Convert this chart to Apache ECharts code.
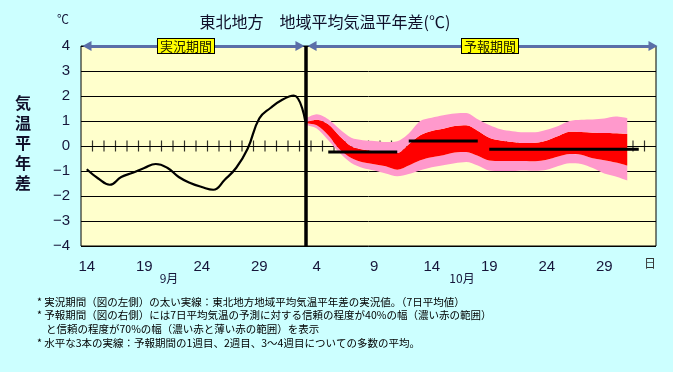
<!DOCTYPE html>
<html><head><meta charset="utf-8">
<script src="https://cdn.jsdelivr.net/npm/echarts@6/dist/echarts.min.js"></script>
<style>html,body{margin:0;padding:0;background:#ccffff}#c{width:673px;height:372px}</style>
</head><body><div id="c"></div>
<script>
// categories: days from Sep 14 to Nov 2
const days = ['14','15','16','17','18','19','20','21','22','23','24','25','26','27','28','29','30',
  '1','2','3','4','5','6','7','8','9','10','11','12','13','14','15','16','17','18','19','20',
  '21','22','23','24','25','26','27','28','29','30','31','1','2'];
// observed 7-day mean anomaly (Sep 14 - Oct 3)
const observed = [-0.93,-1.3,-1.55,-1.24,-1.07,-0.88,-0.72,-0.87,-1.24,-1.48,-1.64,-1.75,-1.35,-0.87,-0.1,1.1,1.53,1.85,2.02,1.0];
// forecast bands (Oct 3 - Oct 31)
const forecastStart = 19;
const upper70 = [1.1,1.27,1.07,0.67,0.33,0.23,0.20,0.16,0.19,0.5,1.0,1.13,1.23,1.30,1.32,1.07,0.84,0.67,0.59,0.55,0.55,0.65,0.80,1.0,1.05,1.06,1.10,1.18,1.12];
const upper40 = [0.95,1.05,0.87,0.39,-0.01,-0.14,-0.20,-0.27,-0.28,0.07,0.43,0.60,0.69,0.80,0.83,0.61,0.33,0.22,0.16,0.12,0.13,0.22,0.40,0.57,0.56,0.53,0.52,0.51,0.48];
const lower40 = [0.9,0.83,0.43,-0.14,-0.48,-0.65,-0.73,-0.81,-0.95,-0.78,-0.57,-0.45,-0.37,-0.26,-0.24,-0.39,-0.58,-0.60,-0.60,-0.60,-0.61,-0.55,-0.42,-0.32,-0.35,-0.49,-0.57,-0.66,-0.78];
const lower70 = [0.85,0.70,0.23,-0.28,-0.68,-0.88,-0.98,-1.10,-1.21,-1.12,-0.97,-0.85,-0.77,-0.69,-0.64,-0.78,-0.98,-1.0,-1.0,-0.98,-0.99,-0.95,-0.80,-0.69,-0.72,-0.88,-1.10,-1.22,-1.38];
// weekly means: [startIndex, endIndex, value]
const week1 = [21, 27, -0.24];
const week2 = [28, 34, 0.20];
const week34 = [35, 48, -0.13];

const N = days.length;
function pad(arr, start){ const a = new Array(N).fill(null); arr.forEach((v,i)=>{a[start+i]=v;}); return a; }
function seg(w){ const a = new Array(N).fill(null); for(let i=w[0];i<=w[1];i++) a[i]=w[2]; return a; }
const diff = (a,b)=>a.map((v,i)=>+(v-b[i]).toFixed(3));
// day boundaries on the zero line (tick marks)
const zeroTicks = [];
for (let k = 1; k < N; k++) zeroTicks.push([k - 0.5, 0]);

const numFont = 'Liberation Sans';
const txtColor = '#16163a';

const bandCommon = {type:'line', xAxisIndex:0, stack:'band', stackStrategy:'all', symbol:'none', smooth:0.3,
  lineStyle:{width:0, opacity:0}, silent:true};

const option = {
  backgroundColor:'#ccffff',
  animation:false,
  grid:{left:81, top:46, width:575, height:200, show:true, backgroundColor:'#ffffcc', borderColor:'#000', borderWidth:1},
  xAxis:[
    {type:'category', data:days, position:'bottom', boundaryGap:true,
      axisLine:{show:false, onZero:false}, axisTick:{show:false},
      axisLabel:{interval:4, fontSize:15, fontFamily:numFont, color:txtColor, margin:13}, splitLine:{show:false}},
    {type:'value', min:-0.5, max:N-0.5, show:false, axisLine:{onZero:false}}
  ],
  yAxis:{type:'value', min:-4, max:4, interval:1,
    axisLine:{show:false, onZero:false}, axisTick:{show:false},
    axisLabel:{fontSize:15, fontFamily:numFont, color:txtColor, margin:11,
      formatter:v=> v<0 ? '\u2212'+(-v) : String(v)},
    splitLine:{show:true, lineStyle:{color:'#000', width:1}}},
  series:[
    {type:'scatter', name:'ticks', xAxisIndex:1, data:zeroTicks, symbol:'rect', symbolSize:[1.2,11],
      itemStyle:{color:'#000'}, silent:true},
    Object.assign({}, bandCommon, {name:'base', data:pad(lower70, forecastStart)}),
    Object.assign({}, bandCommon, {name:'70%下', data:pad(diff(lower40,lower70), forecastStart), areaStyle:{color:'#ff99cc', opacity:1}}),
    Object.assign({}, bandCommon, {name:'40%', data:pad(diff(upper40,lower40), forecastStart), areaStyle:{color:'#ff0000', opacity:1}}),
    Object.assign({}, bandCommon, {name:'70%上', data:pad(diff(upper70,upper40), forecastStart), areaStyle:{color:'#ff99cc', opacity:1}}),
    {type:'line', name:'1週目', data:seg(week1), symbol:'none', lineStyle:{color:'#000', width:3}, silent:true},
    {type:'line', name:'2週目', data:seg(week2), symbol:'none', lineStyle:{color:'#000', width:3}, silent:true},
    {type:'line', name:'3-4週目', data:seg(week34), symbol:'none', lineStyle:{color:'#000', width:3}, silent:true},
    {type:'line', name:'実況', data:observed, symbol:'none', smooth:0.45, lineStyle:{color:'#000', width:2.2}, silent:true},
    {type:'line', name:'deco', xAxisIndex:1, data:[], silent:true,
      markLine:{silent:true, symbol:['triangle','triangle'], symbolSize:[10,9], animation:false,
        label:{show:false}, lineStyle:{color:'#5a6fa8', width:3, type:'solid'},
        data:[
          [{coord:[0.02,4]},{coord:[18.54,4]}],
          [{coord:[19.59,4]},{coord:[49.24,4]}]
        ]}},
    {type:'line', name:'border', xAxisIndex:1, data:[], silent:true,
      markLine:{silent:true, symbol:['none','none'], animation:false, label:{show:false},
        lineStyle:{color:'#000', width:3.5, type:'solid'}, data:[{xAxis:forecastStart}]}}
  ],
  graphic:[
    {type:'text', x:325, y:22, style:{text:'東北地方　地域平均気温平年差(℃)', font:'16px "Noto Sans CJK JP"', fill:'#10102a', align:'center', verticalAlign:'middle'}},
    {type:'text', x:63, y:19, style:{text:'℃', font:'12px "Noto Sans CJK JP"', fill:txtColor, align:'center', verticalAlign:'middle'}},
    {type:'text', x:23, y:143, style:{text:'気\n温\n平\n年\n差', font:'bold 16px "Noto Sans CJK JP"', lineHeight:20, fill:'#10102a', align:'center', verticalAlign:'middle'}},
    {type:'text', x:186, y:46, z:100, style:{text:'実況期間', font:'13px "Noto Sans CJK JP"', fill:'#222200', align:'center', verticalAlign:'middle', backgroundColor:'#ffff00', borderColor:'#000', borderWidth:1, padding:[1,2,0,2]}},
    {type:'text', x:490, y:46, z:100, style:{text:'予報期間', font:'13px "Noto Sans CJK JP"', fill:'#222200', align:'center', verticalAlign:'middle', backgroundColor:'#ffff00', borderColor:'#000', borderWidth:1, padding:[1,2,0,2]}},
    {type:'text', x:169, y:278, style:{text:'9月', font:'12px "Noto Sans CJK JP"', fill:txtColor, align:'center', verticalAlign:'middle'}},
    {type:'text', x:462, y:278, style:{text:'10月', font:'12px "Noto Sans CJK JP"', fill:txtColor, align:'center', verticalAlign:'middle'}},
    {type:'text', x:650, y:263, style:{text:'日', font:'12px "Noto Sans CJK JP"', fill:'#333', align:'center', verticalAlign:'middle'}},
    {type:'text', x:37, y:302, style:{text:'* 実況期間（図の左側）の太い実線：東北地方地域平均気温平年差の実況値。（7日平均値）', font:'10.5px "Noto Sans CJK JP"', fill:'#000', verticalAlign:'middle'}},
    {type:'text', x:37, y:315, style:{text:'* 予報期間（図の右側）には7日平均気温の予測に対する信頼の程度が40%の幅（濃い赤の範囲）', font:'10.5px "Noto Sans CJK JP"', fill:'#000', verticalAlign:'middle'}},
    {type:'text', x:46, y:329, style:{text:'と信頼の程度が70%の幅（濃い赤と薄い赤の範囲）を表示', font:'10.5px "Noto Sans CJK JP"', fill:'#000', verticalAlign:'middle'}},
    {type:'text', x:37, y:343, style:{text:'* 水平な3本の実線：予報期間の1週目、2週目、3～4週目についての多数の平均。', font:'10.5px "Noto Sans CJK JP"', fill:'#000', verticalAlign:'middle'}}
  ]
};
const chart = echarts.init(document.getElementById('c'), null, {renderer:'canvas'});
chart.setOption(option);
</script></body></html>
